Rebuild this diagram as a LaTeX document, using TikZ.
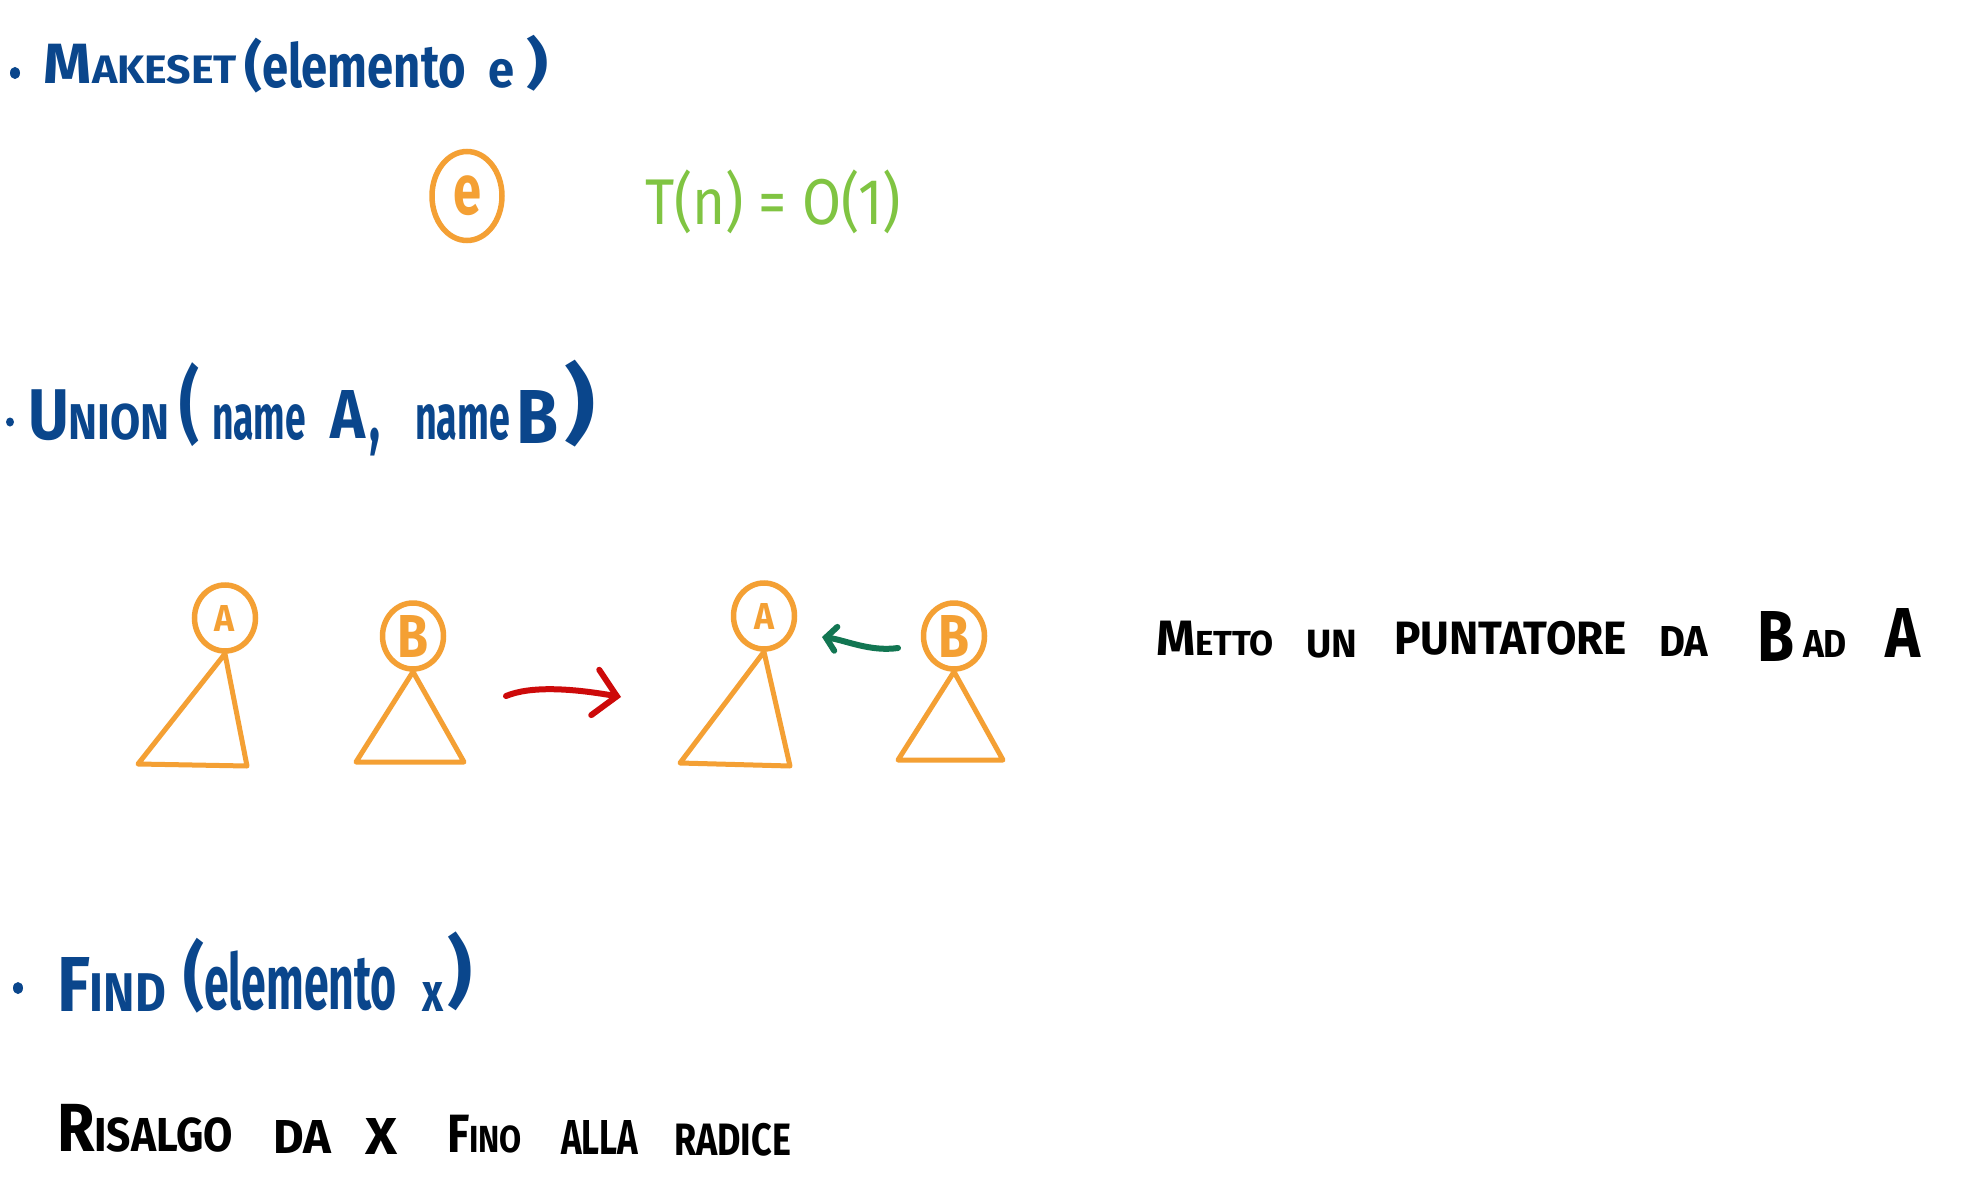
\documentclass[tikz,border=0pt]{standalone}
\usepackage{graphicx}
\usepackage{fontspec}
\setmainfont{Fira Sans}
\usetikzlibrary{arrows.meta,shapes.geometric}
\definecolor{inkblue}{RGB}{10,70,140}
\definecolor{inkorange}{RGB}{244,160,52}
\definecolor{inkgreen}{RGB}{128,196,66}
\definecolor{inkred}{RGB}{205,10,10}
\definecolor{inkteal}{RGB}{18,118,82}
\newcommand\Bg[1]{{\fontsize{20}{20}\selectfont #1}}
\newcommand\Sm[1]{{\fontsize{14}{14}\selectfont #1}}
\newcommand\fitbox[3]{\resizebox*{#1pt}{#2pt}{#3}}
\begin{document}
\begin{tikzpicture}[x=1pt,y=-1pt,
  hw/.style={anchor=south west, inner sep=0pt, outer sep=0pt, font=\bfseries},
  bluetxt/.style={hw, text=inkblue},
  blacktxt/.style={hw, text=black},
  greentxt/.style={hw, text=inkgreen, font=\mdseries},
  dot/.style={ellipse, fill=inkblue, inner sep=0pt, minimum width=10pt, minimum height=12pt},
  treenode/.style={ellipse, draw=inkorange, line width=5.5pt, inner sep=0pt,
    minimum width=61pt, minimum height=66pt, text=inkorange, font=\bfseries},
  tri/.style={draw=inkorange, line width=5pt, line join=round, line cap=round},
  redarr/.style={draw=inkred, line width=6pt, line cap=round,
    -{Straight Barb[length=22pt,width=46pt,line cap=round]}},
  tealarr/.style={draw=inkteal, line width=6pt, line cap=round,
    -{Straight Barb[length=10pt,width=24pt,line cap=round]}}]
\useasboundingbox[fill=white] (0,0) rectangle (1974,1180);

% ---------- MAKESET ----------
\node[dot] (b1) at (15,73) {};
\node[bluetxt] (mk) at (44,84) {\fitbox{193}{40}{\Bg{M}\Sm{AKESET}}};
\node[bluetxt] (p1) at (244,93) {\fitbox{18}{55}{(}};
\node[bluetxt] (el1) at (262,89) {\fitbox{204}{47}{elemento}};
\node[bluetxt] (e1) at (488,88) {\fitbox{26}{29}{e}};
\node[bluetxt] (p2) at (526,91) {\fitbox{22}{56}{)}};

\node[treenode, minimum width=70pt, minimum height=89pt] (enode) at (467,196) {\fitbox{28}{40}{e}};
\node[greentxt] (tn) at (645,234) {\fitbox{256}{64}{T(n) = O(1)}};

% ---------- UNION ----------
\node[dot, minimum width=8pt, minimum height=9pt] (b2) at (10,422) {};
\node[bluetxt] (un) at (28,441) {\fitbox{142}{51}{\Bg{U}\Sm{NION}}};
\node[bluetxt] (p3) at (179,447) {\fitbox{20}{84}{(}};
\node[bluetxt] (nm1) at (212,441) {\fitbox{94}{36}{name}};
\node[bluetxt] (la) at (330,438) {\fitbox{35}{48}{A}};
\node[bluetxt] (cm) at (369,456) {\fitbox{11}{28}{,}};
\node[bluetxt] (nm2) at (415,441) {\fitbox{95}{36}{name}};
\node[bluetxt] (lb) at (516,443) {\fitbox{42}{53}{B}};
\node[bluetxt] (p4) at (564,447) {\fitbox{31}{87}{)}};

% trees before
\node[treenode] (A1) at (225,618) {\fitbox{20}{26}{A}};
\coordinate (A1l) at (138,764);
\coordinate (A1r) at (247,766);
\draw[tri] (A1.south) -- (A1l) -- (A1r) -- cycle;

\node[treenode] (B1) at (413,636) {\fitbox{31}{42}{B}};
\coordinate (B1l) at (356,762);
\coordinate (B1r) at (464,762);
\draw[tri] (B1.south) -- (B1l) -- (B1r) -- cycle;

% red arrow
\coordinate (r1) at (506,696);
\coordinate (r2) at (621,697);
\draw[redarr] (r1) .. controls (530,686) and (570,688) .. (r2);

% trees after
\node[treenode] (A2) at (764,616) {\fitbox{20}{26}{A}};
\coordinate (A2l) at (680,763);
\coordinate (A2r) at (790,766);
\draw[tri] (A2.south) -- (A2l) -- (A2r) -- cycle;

\node[treenode] (B2) at (954,636) {\fitbox{31}{42}{B}};
\coordinate (B2l) at (898,760);
\coordinate (B2r) at (1003,760);
\draw[tri] (B2.south) -- (B2l) -- (B2r) -- cycle;

% green pointer B -> A
\coordinate (g1) at (898,648);
\coordinate (g2) at (822,637);
\draw[tealarr] (g1) .. controls (870,652) and (845,640) .. (g2);

% explanation
\node[blacktxt] (w1) at (1156,656) {\fitbox{118}{35}{\Bg{M}\Sm{ETTO}}};
\node[blacktxt] (w2) at (1306,658) {\fitbox{51}{28}{UN}};
\node[blacktxt] (w3) at (1394,655) {\fitbox{233}{34}{PUNTATORE}};
\node[blacktxt] (w4) at (1659,656) {\fitbox{49}{30}{DA}};
\node[blacktxt] (w5) at (1757,661) {\fitbox{37}{50}{B}};
\node[blacktxt] (w6) at (1803,657) {\fitbox{44}{27}{AD}};
\node[blacktxt] (w7) at (1885,657) {\fitbox{35}{49}{A}};

% ---------- FIND ----------
\node[dot] (b3) at (18,988) {};
\node[bluetxt] (fd) at (57,1011) {\fitbox{109}{54}{\Bg{F}\Sm{IND}}};
\node[bluetxt] (p5) at (183,1013) {\fitbox{21}{75}{(}};
\node[bluetxt] (el2) at (204,1011) {\fitbox{193}{60}{elemento}};
\node[bluetxt] (x1) at (422,1011) {\fitbox{21}{29}{x}};
\node[bluetxt] (p6) at (447,1011) {\fitbox{25}{79}{)}};

\node[blacktxt] (v1) at (57,1152) {\fitbox{176}{48}{\Bg{R}\Sm{ISALGO}}};
\node[blacktxt] (v2) at (273,1153) {\fitbox{58}{33}{DA}};
\node[blacktxt] (v3) at (365,1154) {\fitbox{32}{36}{X}};
\node[blacktxt] (v4) at (447,1153) {\fitbox{75}{38}{\Bg{F}\Sm{INO}}};
\node[blacktxt] (v5) at (561,1154) {\fitbox{77}{34}{ALLA}};
\node[blacktxt] (v6) at (674,1156) {\fitbox{117}{33}{RADICE}};
\end{tikzpicture}
\end{document}
